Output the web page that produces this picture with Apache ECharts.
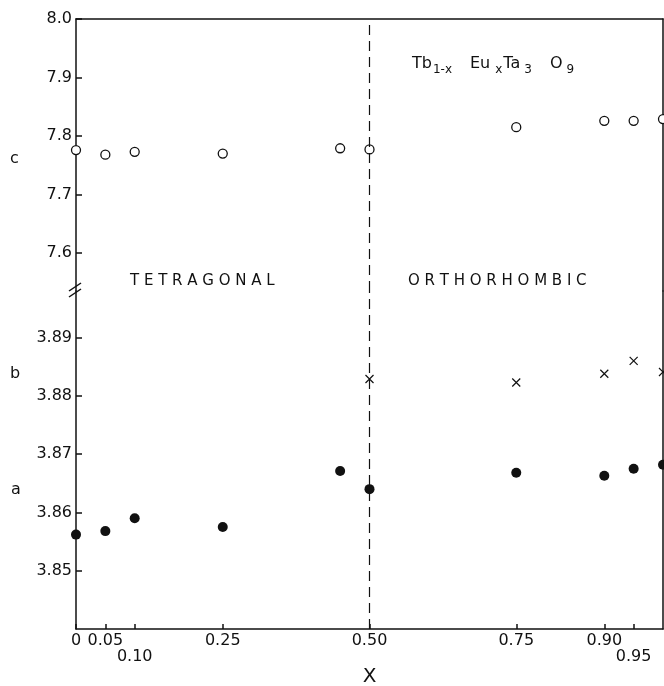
<!DOCTYPE html>
<html>
<head>
<meta charset="utf-8">
<script src="https://cdn.jsdelivr.net/npm/echarts@6/dist/echarts.min.js"></script>
<style>
  html, body { margin: 0; padding: 0; background: #fff; }
</style>
</head>
<body>
<div id="main" style="width: 664px;height:686px;"></div>
<script>
// composition x and lattice parameters
const xA = [0, 0.05, 0.10, 0.25, 0.45, 0.50, 0.75, 0.90, 0.95, 1.0];
const aVals = [3.8562, 3.8568, 3.8590, 3.8575, 3.8671, 3.8640, 3.8668, 3.8663, 3.8675, 3.8682];
const xB = [0.50, 0.75, 0.90, 0.95, 1.0];
const bVals = [3.8829, 3.8823, 3.8838, 3.8860, 3.8841];
const xC = [0, 0.05, 0.10, 0.25, 0.45, 0.50, 0.75, 0.90, 0.95, 1.0];
const cVals = [7.776, 7.768, 7.773, 7.770, 7.779, 7.777, 7.815, 7.826, 7.826, 7.829];

const xTickValues = [0, 0.05, 0.10, 0.25, 0.50, 0.75, 0.90, 0.95];
const xTopRow = [0, 0.05, 0.25, 0.50, 0.75, 0.90];
const xLowRow = [0.10, 0.95];
const upperTicks = [7.6, 7.7, 7.8, 7.9, 8.0];
const lowerTicks = [3.85, 3.86, 3.87, 3.88, 3.89];
const phaseBoundary = 0.5;

const ink = '#111';
const font = 'DejaVu Sans';

function pairs(xs, ys) {
  return xs.map((x, i) => [x, ys[i]]);
}
function xLabel(v) {
  return v === 0 ? '0' : v.toFixed(2);
}

let myChart = echarts.init(document.getElementById('main'));

const lineStyle = { color: ink, width: 1.5 };
const frameLine = { show: true, onZero: false, lineStyle: lineStyle };
const boundaryLine = {
  silent: true,
  symbol: 'none',
  label: { show: false },
  lineStyle: { color: ink, width: 1.2, type: [10, 6] },
  data: [{ xAxis: phaseBoundary }]
};

// subscript / main styles for the formula
function sub(padLeft) {
  return { fontSize: 12, fontFamily: font, fill: ink, lineHeight: 12, verticalAlign: 'bottom', padding: [0, 0, 0, padLeft] };
}
function main(padLeft) {
  return { fontSize: 16, fontFamily: font, fill: ink, lineHeight: 24, padding: [0, 0, 0, padLeft] };
}

let option = {
  backgroundColor: '#fff',
  animation: false,
  textStyle: { fontFamily: font },
  grid: [
    { left: 76, right: 1, top: 19, height: 272, outerBoundsMode: 'none' },
    { left: 76, right: 1, top: 291, height: 338, outerBoundsMode: 'none' }
  ],
  xAxis: [{
    gridIndex: 0,
    type: 'value',
    position: 'top',
    min: 0,
    max: 1,
    axisLine: frameLine,
    axisTick: { show: false },
    axisLabel: { show: false },
    splitLine: { show: false }
  }, {
    gridIndex: 1,
    type: 'value',
    position: 'bottom',
    min: 0,
    max: 1,
    name: 'X',
    nameLocation: 'middle',
    nameGap: 38,
    nameTextStyle: { fontSize: 20, color: ink, fontFamily: font },
    axisLine: frameLine,
    axisTick: { inside: true, length: 5, customValues: xTickValues, lineStyle: lineStyle },
    axisLabel: {
      customValues: xTopRow,
      margin: 4,
      fontSize: 16,
      color: ink,
      fontFamily: font,
      hideOverlap: false,
      showMinLabel: true,
      showMaxLabel: true,
      formatter: xLabel
    },
    splitLine: { show: false }
  }, {
    // second (staggered) row of x labels
    gridIndex: 1,
    type: 'value',
    position: 'bottom',
    offset: 16,
    min: 0,
    max: 1,
    axisLine: { show: false, onZero: false },
    axisTick: { show: false },
    axisLabel: {
      customValues: xLowRow,
      margin: 4,
      fontSize: 16,
      color: ink,
      fontFamily: font,
      showMinLabel: true,
      showMaxLabel: true,
      formatter: xLabel
    },
    splitLine: { show: false }
  }],
  yAxis: [{
    gridIndex: 0,
    type: 'value',
    position: 'left',
    min: 7.535,
    max: 8.0,
    axisLine: frameLine,
    axisTick: { inside: true, length: 6, customValues: upperTicks, lineStyle: lineStyle },
    axisLabel: {
      customValues: upperTicks, margin: 4, fontSize: 16, color: ink, fontFamily: font,
      showMaxLabel: true,
      formatter: v => v.toFixed(1)
    },
    splitLine: { show: false }
  }, {
    gridIndex: 1,
    type: 'value',
    position: 'left',
    min: 3.84,
    max: 3.898,
    axisLine: frameLine,
    axisTick: { inside: true, length: 6, customValues: lowerTicks, lineStyle: lineStyle },
    axisLabel: {
      customValues: lowerTicks, margin: 4, fontSize: 16, color: ink, fontFamily: font,
      formatter: v => v.toFixed(2)
    },
    splitLine: { show: false }
  }, {
    // right frame edges
    gridIndex: 0, type: 'value', position: 'right', min: 7.535, max: 8.0,
    axisLine: frameLine,
    axisTick: { show: false }, axisLabel: { show: false }, splitLine: { show: false }
  }, {
    gridIndex: 1, type: 'value', position: 'right', min: 3.84, max: 3.898,
    axisLine: frameLine,
    axisTick: { show: false }, axisLabel: { show: false }, splitLine: { show: false }
  }],
  series: [{
    name: 'c',
    type: 'scatter',
    xAxisIndex: 0,
    yAxisIndex: 0,
    data: pairs(xC, cVals),
    symbol: 'circle',
    symbolSize: 9,
    itemStyle: { color: '#fff', borderColor: ink, borderWidth: 1.3, opacity: 1 },
    markLine: boundaryLine
  }, {
    name: 'a',
    type: 'scatter',
    xAxisIndex: 1,
    yAxisIndex: 1,
    data: pairs(xA, aVals),
    symbol: 'circle',
    symbolSize: 10,
    itemStyle: { color: ink, opacity: 1 },
    markLine: boundaryLine
  }, {
    name: 'b',
    type: 'scatter',
    xAxisIndex: 1,
    yAxisIndex: 1,
    data: pairs(xB, bVals),
    symbol: 'path://M0,0L10,10M10,0L0,10',
    symbolSize: 8,
    itemStyle: { color: 'none', borderColor: ink, borderWidth: 1.2, opacity: 1 }
  }],
  graphic: [
    // axis break mark
    { type: 'line', shape: { x1: 69, y1: 291, x2: 81, y2: 283 }, style: { stroke: ink, lineWidth: 1.5 } },
    { type: 'line', shape: { x1: 69, y1: 297, x2: 81, y2: 289 }, style: { stroke: ink, lineWidth: 1.5 } },
    // parameter letters
    { type: 'text', left: 10, top: 151, style: { text: 'c', font: '16px ' + font, fill: ink } },
    { type: 'text', left: 10, top: 366, style: { text: 'b', font: '16px ' + font, fill: ink } },
    { type: 'text', left: 11, top: 482, style: { text: 'a', font: '16px ' + font, fill: ink } },
    // phase labels
    { type: 'text', left: 130, top: 274, style: { text: 'T E T R A G O N A L', font: '15px ' + font, fill: ink } },
    { type: 'text', left: 408, top: 274, style: { text: 'O R T H O R H O M B I C', font: '15px ' + font, fill: ink } },
    // formula
    {
      type: 'text', left: 412, top: 52,
      style: {
        text: '{m0|Tb}{s1|1-x}{m18|Eu}{s5|x}{m1|Ta}{s4|3}{m18|O}{s4|9}',
        font: '16px ' + font,
        fill: ink,
        lineHeight: 24,
        rich: {
          m0: main(0), m1: main(1), m18: main(18),
          s1: sub(1), s4: sub(4), s5: sub(5)
        }
      }
    }
  ]
};

myChart.setOption(option);
</script>
</body>
</html>
